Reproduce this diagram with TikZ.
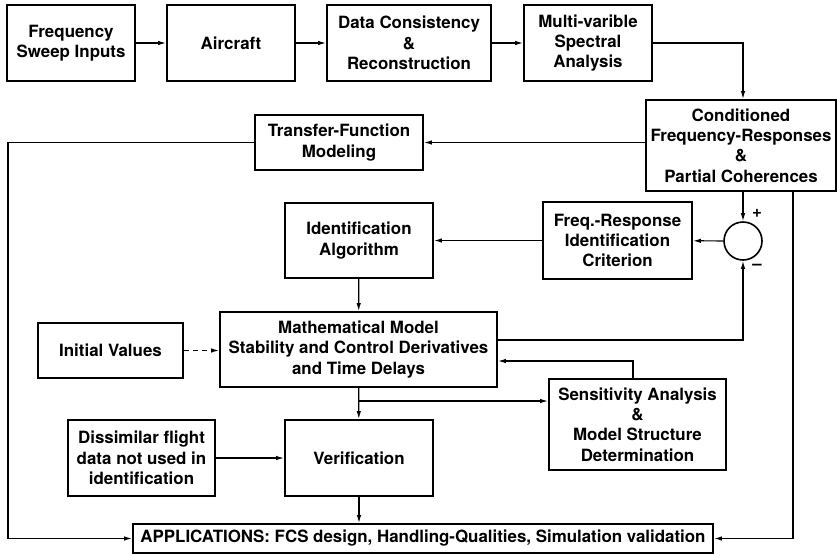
\documentclass[tikz,border=0pt]{standalone}
\usepackage{fontspec}
\setmainfont{TeX Gyre Heros}
\usetikzlibrary{arrows.meta,positioning,calc}

\begin{document}
\begin{tikzpicture}[x = 1pt, y = -1pt, >={Latex[length=8pt,width=4.5pt]},
    blk/.style = {draw, line width=1.9pt, align=center, inner sep=0pt,
                  font=\bfseries\fontsize{16.9}{20.3}\selectfont},
    wire/.style = {line width=1.2pt}]
    \useasboundingbox (0,0) rectangle (838,555);
    % top row
    \node[blk, minimum width=128pt, minimum height=76pt] (sweep) at (71,43) {Frequency\\Sweep Inputs};
    \node[blk, minimum width=128pt, minimum height=76pt] (aircraft) at (231,43) {Aircraft};
    \node[blk, minimum width=164pt, minimum height=76pt] (consist) at (409,43) {Data Consistency\\\&\\Reconstruction};
    \node[blk, minimum width=128pt, minimum height=76pt] (spectral) at (588,43) {Multi-varible\\Spectral\\Analysis};
    \node[blk, minimum width=190pt, minimum height=91pt] (cond) at (741,145.5) {Conditioned\\Frequency-Responses\\\&\\Partial Coherences};
    \node[blk, minimum width=168pt, minimum height=55pt] (tfm) at (339,142.5) {Transfer-Function\\Modeling};
    % identification loop
    \node[blk, minimum width=148pt, minimum height=75pt] (identalg) at (359,240.5) {Identification\\Algorithm};
    \node[blk, minimum width=149pt, minimum height=77pt] (crit) at (617.5,240.5) {Freq.-Response\\Identification\\Criterion};
    \node[draw, circle, line width=1.6pt, minimum size=38pt, inner sep=0pt] (sum) at (743,241) {};
    \node[font=\bfseries\fontsize{16.9}{20}\selectfont] (plus) at (757,213) {+};
    \node[font=\bfseries\fontsize{16.9}{20}\selectfont] (minus) at (757,267) {--};
    \node[blk, minimum width=277pt, minimum height=75pt] (math) at (358.5,349.5) {Mathematical Model\\Stability and Control Derivatives\\and Time Delays};
    \node[blk, minimum width=145pt, minimum height=55pt] (init) at (110.5,350.5) {Initial Values};
    \node[blk, minimum width=147pt, minimum height=76pt] (dissim) at (141.5,458) {Dissimilar flight\\data not used in\\identification};
    \node[blk, minimum width=148pt, minimum height=76pt] (verif) at (359,458) {Verification};
    \node[blk, minimum width=177pt, minimum height=91pt] (sens) at (637.5,424.5) {Sensitivity Analysis\\\&\\Model Structure\\Determination};
    \node[blk, minimum width=580pt, minimum height=29pt] (apps) at (423,538.5) {APPLICATIONS: FCS design, Handling-Qualities, Simulation validation};
    % bends of the connectors
    \coordinate (leftrail) at (8,538.5);
    \coordinate (rightrail) at (793,538.5);
    \coordinate (fb) at (743,340);
    \coordinate (sb) at (633,361);
    \coordinate (br) at (359,401);
    % connectors
    \draw[wire, ->] (sweep) -- (aircraft);
    \draw[wire, ->] (aircraft) -- (consist);
    \draw[wire, ->] (consist) -- (spectral);
    \draw[wire, ->] (spectral.east) -| (cond.north -| sum);
    \draw[wire, ->] (cond.west |- tfm) -- (tfm);
    \draw[wire, ->] (tfm.west) -| (leftrail) -- (apps.west);
    \draw[wire, ->] (cond.south -| rightrail) -- (rightrail) -- (apps.east);
    \draw[wire, ->] (cond.south -| sum) -- (sum);
    \draw[wire, ->] (sum) -- (crit);
    \draw[wire, ->] (crit) -- (identalg);
    \draw[wire, ->] (identalg) -- (math);
    \draw[wire, ->] (math.east |- fb) -| (sum.south);
    \draw[wire, ->] (sens.north -| sb) |- (math.east |- sb);
    \draw[wire, ->] (math) -- (verif);
    \draw[wire, ->] (br) -- (sens.west |- br);
    \draw[wire, dash pattern=on 5pt off 4pt, ->] (init) -- (math.west |- init);
    \draw[wire, ->] (dissim) -- (verif);
    \draw[wire, ->] (verif) -- (apps.north -| verif);
\end{tikzpicture}
\end{document}
